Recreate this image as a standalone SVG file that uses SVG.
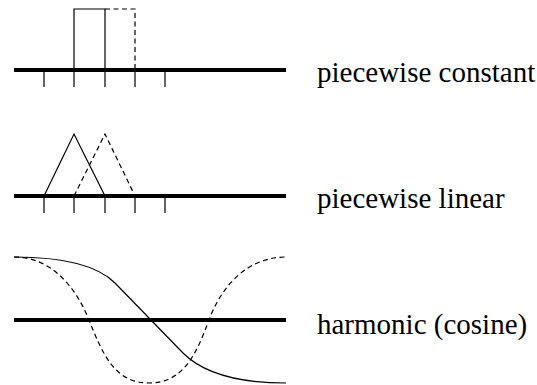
<svg xmlns="http://www.w3.org/2000/svg" width="537" height="385" viewBox="0 0 537 385">
<defs>
<path id="ticks" d="M44,0V17M74,0V17M105,0V17M135,0V17M165,0V17" stroke="#000" stroke-width="1.2" fill="none"/>
</defs>
<rect width="537" height="385" fill="#fff"/>
<g id="constant">
<g stroke="#000" fill="none">
<line x1="14" y1="70" x2="286" y2="70" stroke-width="4"/>
<use href="#ticks" y="70"/>
<path d="M74,70V9H105V70" stroke-width="1.2"/>
<path d="M105,9H135V70" stroke-width="1.2" stroke-dasharray="5,3.5"/>
</g>
<text x="317" y="82" font-family="Liberation Serif" font-size="29" fill="#000">piecewise constant</text>
</g>
<g id="linear">
<g stroke="#000" fill="none">
<line x1="14" y1="196" x2="286" y2="196" stroke-width="4"/>
<use href="#ticks" y="196" transform="scale(1,1)"/>
<path d="M44,196L74,134L105,196" stroke-width="1.2"/>
<path d="M74,196L105,134L135,196" stroke-width="1.2" stroke-dasharray="5,3.5"/>
</g>
<text x="317" y="208" font-family="Liberation Serif" font-size="29" fill="#000">piecewise linear</text>
</g>
<g id="harmonic">
<g stroke="#000" fill="none">
<line x1="14" y1="320" x2="286" y2="320" stroke-width="4"/>
<path d="M14,257C70,257 100,268 115,283L183,353C200,370 230,383 286,383" stroke-width="1.2"/>
<path d="M14,257C50,257 75,285 89,320S115,383 149,383S196,355 209,320S248,257 286,257" stroke-width="1.2" stroke-dasharray="5,3.5"/>
</g>
<text x="317" y="334" font-family="Liberation Serif" font-size="29" fill="#000">harmonic (cosine)</text>
</g>
</svg>
